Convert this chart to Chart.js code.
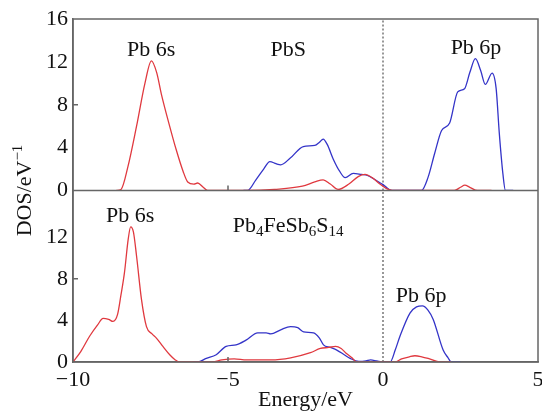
<!DOCTYPE html>
<html>
<head>
<meta charset="utf-8">
<script src="https://cdn.jsdelivr.net/npm/chart.js@4.4.0/dist/chart.umd.min.js"></script>
<style>
  html, body { margin: 0; padding: 0; background: #fff; }
  #wrap { width: 542px; height: 414px; }
</style>
</head>
<body>
<div id="wrap"><canvas id="dos"></canvas></div>
<script>
// upper panel: PbS
const pbsSEnergy = [-8.6, -8.45, -8.23, -7.95, -7.68, -7.47, -7.3, -7.15, -6.9, -6.67, -6.45, -6.3, -6.1, -5.98, -5.8, -5.66, -5.0, -4.4, -3.5, -2.6, -2.2, -1.93, -1.7, -1.45, -1.1, -0.8, -0.58, -0.35, -0.1, 0.1, 0.3, 0.6, 1.5, 2.3, 2.5, 2.64, 2.8, 3.05, 3.5];
const pbsSDos    = [0, 0.1, 2.2, 6, 10, 12.1, 11, 9, 6.2, 3.8, 1.8, 0.8, 0.6, 0.7, 0.3, 0, 0, 0, 0.1, 0.4, 0.8, 1.0, 0.6, 0.1, 0.6, 1.3, 1.5, 1.2, 0.6, 0.2, 0, 0, 0, 0, 0.3, 0.5, 0.3, 0, 0];
const pbsPEnergy = [-4.5, -4.37, -4.1, -3.85, -3.65, -3.45, -3.3, -3.0, -2.57, -2.2, -2.05, -1.93, -1.8, -1.6, -1.4, -1.22, -0.96, -0.7, -0.5, -0.2, 0, 0.28, 0.5, 1.0, 1.24, 1.45, 1.67, 1.89, 2.15, 2.41, 2.63, 2.8, 2.98, 3.15, 3.3, 3.52, 3.65, 3.75, 3.87, 3.95, 4.2];
const pbsPDos    = [0, 0, 1.0, 2.0, 2.7, 2.5, 2.4, 3.0, 4.1, 4.2, 4.5, 4.8, 4.3, 2.9, 1.8, 1.2, 1.6, 1.5, 1.4, 0.9, 0.55, 0, 0, 0, 0, 1.2, 3.5, 5.6, 6.3, 9.2, 9.5, 11, 12.3, 11.2, 9.9, 10.95, 9.5, 5.4, 1.5, 0, 0];

// lower panel: Pb4FeSb6S14
const mixSEnergy = [-10, -9.75, -9.46, -9.2, -9.03, -8.85, -8.71, -8.56, -8.45, -8.34, -8.22, -8.14, -8.05, -7.95, -7.79, -7.63, -7.45, -7.31, -7.1, -6.88, -6.7, -6.56, -6.0, -5.5, -5.2, -4.8, -4.4, -4.0, -3.62, -2.98, -2.34, -2.02, -1.75, -1.53, -1.35, -1.21, -1.0, -0.84, -0.5, 0, 0.2, 0.39, 0.6, 0.85, 1.03, 1.25, 1.5, 1.83, 2.2];
const mixSDos    = [0, 1.0, 2.5, 3.6, 4.2, 4.1, 3.9, 4.6, 6.5, 8.6, 11.8, 13.0, 12.5, 10.2, 6.0, 3.4, 2.7, 2.3, 1.5, 0.7, 0.2, 0, 0, 0, 0.2, 0.3, 0.2, 0.2, 0.2, 0.4, 0.9, 1.3, 1.4, 1.5, 1.3, 0.9, 0.4, 0, 0, 0, 0, 0, 0.3, 0.5, 0.6, 0.5, 0.3, 0, 0];
const mixPEnergy = [-6.1, -5.97, -5.7, -5.38, -5.06, -4.74, -4.42, -4.04, -3.77, -3.62, -3.3, -2.98, -2.75, -2.56, -2.24, -2.05, -1.92, -1.7, -1.49, -1.25, -1.06, -0.78, -0.55, -0.4, -0.2, 0, 0.23, 0.4, 0.55, 0.87, 1.08, 1.27, 1.45, 1.62, 1.94, 2.1, 2.2, 2.5];
const mixPDos    = [0, 0, 0.35, 0.7, 1.5, 1.65, 2.1, 2.8, 2.8, 2.7, 3.1, 3.4, 3.3, 2.9, 2.8, 2.3, 1.65, 1.4, 1.15, 0.7, 0.35, 0.05, 0.1, 0.2, 0.1, 0, 0, 1.2, 2.5, 4.7, 5.3, 5.4, 5.0, 4.1, 1.15, 0.4, 0, 0];

const fermiLevel = 0;
const xTicks = [-10, -5, 0, 5];
const yTopTicks = [0, 4, 8, 12, 16];
const yBotTicks = [0, 4, 8, 12];

// text in the panels, '_' marks a subscript number
const notes = [
  { text: 'Pb 6s', axis: 'yTop', e: -7.48, dos: 13.1 },
  { text: 'PbS', axis: 'yTop', e: -3.06, dos: 13.1 },
  { text: 'Pb 6p', axis: 'yTop', e: 3.0, dos: 13.3 },
  { text: 'Pb 6s', axis: 'yBot', e: -8.16, dos: 14.0 },
  { text: 'Pb_4FeSb_6S_14', axis: 'yBot', e: -3.06, dos: 13.1 },
  { text: 'Pb 6p', axis: 'yBot', e: 1.23, dos: 6.3 },
];

const RED = '#e0393f';
const BLUE = '#3434c8';
const AXIS = '#666';
const FONT = { family: 'Liberation Serif', size: 22 };

const pts = (xs, ys) => xs.map((x, i) => ({ x: x, y: ys[i] }));

function curve(xs, ys, axis, color) {
  return {
    data: pts(xs, ys),
    yAxisID: axis,
    borderColor: color,
    borderWidth: 1.3,
    pointRadius: 0,
    cubicInterpolationMode: 'monotone',
    fill: false,
  };
}

function fermi(axis, top) {
  return {
    data: [{ x: fermiLevel, y: 0 }, { x: fermiLevel, y: top }],
    yAxisID: axis,
    borderColor: '#333',
    borderWidth: 1,
    borderDash: [2, 2],
    pointRadius: 0,
  };
}

function drawRich(ctx, str, cx, cy) {
  const parts = str.split(/_(\d+)/);
  const big = FONT.size + 'px "' + FONT.family + '"';
  const small = Math.round(FONT.size * 0.66) + 'px "' + FONT.family + '"';
  let w = 0;
  parts.forEach((p, i) => { ctx.font = i % 2 ? small : big; w += ctx.measureText(p).width; });
  let x = cx - w / 2;
  ctx.textAlign = 'left';
  ctx.textBaseline = 'middle';
  parts.forEach((p, i) => {
    ctx.font = i % 2 ? small : big;
    ctx.fillText(p, x, cy + (i % 2 ? 6 : 0));
    x += ctx.measureText(p).width;
  });
}

const framePlugin = {
  id: 'frame',
  afterDatasetsDraw(chart) {
    const { ctx, chartArea: a, scales } = chart;
    const mid = scales.yTop.bottom;
    ctx.save();
    ctx.strokeStyle = AXIS;
    ctx.lineWidth = 1.5;
    ctx.strokeRect(a.left, a.top, a.right - a.left, a.bottom - a.top);
    ctx.beginPath();
    ctx.moveTo(a.left, mid);
    ctx.lineTo(a.right, mid);
    // small inward ticks
    const xm = scales.x.getPixelForValue(-5);
    [mid, a.bottom].forEach(y => { ctx.moveTo(xm, y); ctx.lineTo(xm, y - 5); });
    [scales.yTop, scales.yBot].forEach(s => {
      const y = s.getPixelForValue(8);
      ctx.moveTo(a.left, y);
      ctx.lineTo(a.left + 5, y);
    });
    ctx.stroke();

    ctx.fillStyle = '#111';
    notes.forEach(n => {
      drawRich(ctx, n.text, scales.x.getPixelForValue(n.e), scales[n.axis].getPixelForValue(n.dos));
    });

    // y title
    ctx.translate(25, (a.top + a.bottom) / 2);
    ctx.rotate(-Math.PI / 2);
    const big = FONT.size + 'px "' + FONT.family + '"';
    const small = Math.round(FONT.size * 0.66) + 'px "' + FONT.family + '"';
    ctx.font = big;
    const w1 = ctx.measureText('DOS/eV').width;
    ctx.font = small;
    const w2 = ctx.measureText('−1').width;
    let x = -(w1 + w2) / 2;
    ctx.textAlign = 'left';
    ctx.textBaseline = 'middle';
    ctx.font = big;
    ctx.fillText('DOS/eV', x, 0);
    ctx.font = small;
    ctx.fillText('−1', x + w1, -7);
    ctx.restore();
  }
};

const minus = v => (v < 0 ? '−' + Math.abs(v) : String(v));

new Chart(document.getElementById('dos'), {
  type: 'line',
  data: {
    datasets: [
      curve(pbsSEnergy, pbsSDos, 'yTop', RED),
      curve(pbsPEnergy, pbsPDos, 'yTop', BLUE),
      curve(mixSEnergy, mixSDos, 'yBot', RED),
      curve(mixPEnergy, mixPDos, 'yBot', BLUE),
      fermi('yTop', 16),
      fermi('yBot', 16.5),
    ],
  },
  options: {
    responsive: true,
    maintainAspectRatio: false,
    animation: false,
    devicePixelRatio: 1,
    layout: { padding: { top: 19, right: 4, left: 0, bottom: 0 } },
    plugins: { legend: { display: false }, tooltip: { enabled: false } },
    scales: {
      x: {
        type: 'linear', min: -10, max: 5, position: 'bottom',
        afterBuildTicks: s => { s.ticks = xTicks.map(v => ({ value: v })); },
        ticks: { font: FONT, color: '#111', padding: 5, maxRotation: 0, autoSkip: false, callback: minus },
        grid: { display: false, drawTicks: false },
        border: { color: AXIS, width: 1.5 },
        title: { display: true, text: 'Energy/eV', font: FONT, color: '#111', padding: 1 },
        afterFit: s => { s.height = 52; s.paddingRight = 4; },
      },
      // the axis listed first lands at the bottom of the stack
      yBot: {
        type: 'linear', position: 'left', stack: 'panels', stackWeight: 1, min: 0, max: 16.5,
        afterBuildTicks: s => { s.ticks = yBotTicks.map(v => ({ value: v })); },
        ticks: { font: FONT, color: '#111', padding: 5, autoSkip: false },
        grid: { display: false, drawTicks: false },
        border: { color: AXIS, width: 1.5 },
        afterFit: s => { s.width = 73; },
      },
      yTop: {
        type: 'linear', position: 'left', stack: 'panels', stackWeight: 1, min: 0, max: 16,
        afterBuildTicks: s => { s.ticks = yTopTicks.map(v => ({ value: v })); },
        ticks: { font: FONT, color: '#111', padding: 5, autoSkip: false },
        grid: { display: false, drawTicks: false },
        border: { color: AXIS, width: 1.5 },
        afterFit: s => { s.width = 73; },
      },
    },
  },
  plugins: [framePlugin],
});
</script>
</body>
</html>
